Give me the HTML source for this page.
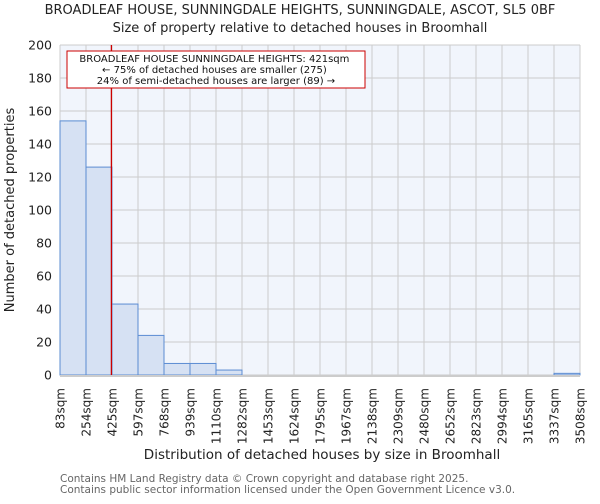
<!DOCTYPE html>
<html><head><meta charset="utf-8"><style>
body{margin:0;background:#fff;font-family:"DejaVu Sans","Liberation Sans",sans-serif}
</style></head><body>
<svg width="600" height="500" xmlns="http://www.w3.org/2000/svg" font-family="DejaVu Sans, Liberation Sans, sans-serif">
<text x="300" y="14" text-anchor="middle" font-size="13" fill="#222">BROADLEAF HOUSE, SUNNINGDALE HEIGHTS, SUNNINGDALE, ASCOT, SL5 0BF</text>
<text x="300" y="32" text-anchor="middle" font-size="13" fill="#222">Size of property relative to detached houses in Broomhall</text>
<rect x="60" y="45" width="520" height="330" fill="#f1f5fc"/>
<g id="grid"></g>
<g id="bars"></g>
<g id="yticks"></g>
<g id="xticks"></g>
<g id="marker"></g>
<text transform="translate(14,210) rotate(-90)" text-anchor="middle" font-size="13" fill="#222">Number of detached properties</text>
<text x="322" y="459" text-anchor="middle" font-size="13.5" fill="#222">Distribution of detached houses by size in Broomhall</text>
<rect x="67" y="51" width="298" height="37" fill="#fff" stroke="#c00" stroke-width="1"/>
<text font-size="10" fill="#111" text-anchor="middle">
<tspan x="216" y="62">BROADLEAF HOUSE SUNNINGDALE HEIGHTS: 421sqm</tspan>
<tspan x="216" y="73">← 75% of detached houses are smaller (275)</tspan>
<tspan x="216" y="84">24% of semi-detached houses are larger (89) →</tspan>
</text>
<text x="60" y="482" font-size="10.5" fill="#666">Contains HM Land Registry data © Crown copyright and database right 2025.</text>
<text x="60" y="493" font-size="10.5" fill="#666">Contains public sector information licensed under the Open Government Licence v3.0.</text>
</svg>
<script>
const edgeLabels=["83sqm","254sqm","425sqm","597sqm","768sqm","939sqm","1110sqm","1282sqm","1453sqm","1624sqm","1795sqm","1967sqm","2138sqm","2309sqm","2480sqm","2652sqm","2823sqm","2994sqm","3165sqm","3337sqm","3508sqm"];
const edges=[83,254,425,597,768,939,1110,1282,1453,1624,1795,1967,2138,2309,2480,2652,2823,2994,3165,3337,3508];
const counts=[154,126,43,24,7,7,3,0,0,0,0,0,0,0,0,0,0,0,0,1];
const yTicks=[0,20,40,60,80,100,120,140,160,180,200];
const propertySize=421;
const NS="http://www.w3.org/2000/svg";
const x0=60,x1=580,y0=375,y1=45,yMax=200;
const n=edges.length-1;
const xi=i=>x0+(x1-x0)*i/n;
const xv=v=>{for(let i=0;i<n;i++){if(v<=edges[i+1])return xi(i)+(v-edges[i])/(edges[i+1]-edges[i])*(x1-x0)/n;}return x1;};
const y=v=>y0-(y0-y1)*v/yMax;
function mk(t,a,p){const e=document.createElementNS(NS,t);for(const k in a)e.setAttribute(k,a[k]);p.appendChild(e);return e;}
const g=document.getElementById('grid'),b=document.getElementById('bars'),yt=document.getElementById('yticks'),xt=document.getElementById('xticks'),m=document.getElementById('marker');
yTicks.forEach(v=>{const l=mk('line',{x1:x0,x2:x1,y1:y(v),y2:y(v),stroke:'#cccccc','stroke-width':1},g);


const t=mk('text',{x:52,y:y(v)+4.5,'text-anchor':'end','font-size':12.5,fill:'#222'},yt);t.textContent=v;

});
edgeLabels.forEach((s,i)=>{const l=mk('line',{x1:xi(i),x2:xi(i),y1:y1,y2:y0,stroke:'#cccccc','stroke-width':1},g);


const t=mk('text',{transform:`translate(${xi(i)+4.5},${388}) rotate(-90)`,'text-anchor':'end','font-size':12,fill:'#222'},xt);t.textContent=s;

});
counts.forEach((c,i)=>{if(c<=0)return;const r=mk('rect',{x:xi(i),y:y(c),width:xi(i+1)-xi(i),height:y0-y(c),fill:'#d6e1f3',stroke:'#5b8cd2','stroke-width':1},b);

});
const ax=mk('line',{x1:x0,x2:x1,y1:y0+1,y2:y0+1,stroke:'#cccccc','stroke-width':2},xt);


const px=xv(propertySize);
const ml=mk('line',{x1:px,x2:px,y1:y1,y2:y0,stroke:'#cc0000','stroke-width':1.3},m);


</script>
</body></html>
